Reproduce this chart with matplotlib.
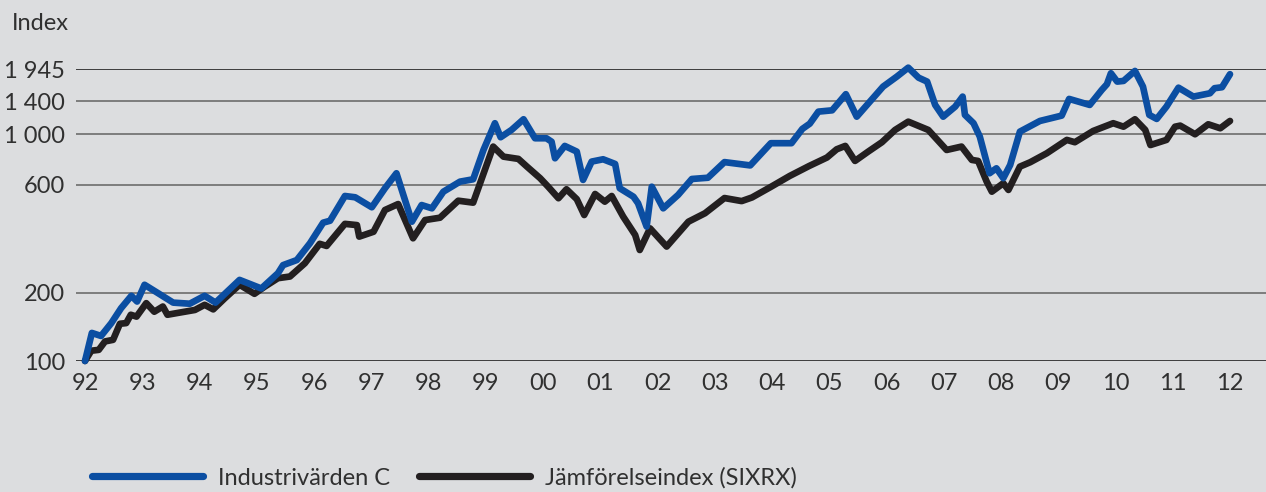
import matplotlib

matplotlib.use("Agg")
import matplotlib.pyplot as plt

# Industrivärden C, index (1992 = 100)
ind_years = [
    1992.00, 1992.12, 1992.28, 1992.46, 1992.63, 1992.81, 1992.91, 1993.04,
    1993.28, 1993.54, 1993.83, 1994.09, 1994.28, 1994.70, 1995.08, 1995.37,
    1995.46, 1995.70, 1995.93, 1996.16, 1996.28, 1996.54, 1996.72, 1997.01,
    1997.24, 1997.44, 1997.71, 1997.88, 1998.06, 1998.26, 1998.55, 1998.78,
    1998.96, 1999.16, 1999.26, 1999.45, 1999.66, 1999.86, 2000.06, 2000.15,
    2000.21, 2000.38, 2000.59, 2000.70, 2000.85, 2001.05, 2001.26, 2001.34,
    2001.58, 2001.66, 2001.81, 2001.90, 2002.10, 2002.36, 2002.60, 2002.88,
    2003.17, 2003.62, 2003.98, 2004.34, 2004.53, 2004.66, 2004.81, 2005.05,
    2005.29, 2005.48, 2005.71, 2005.94, 2006.18, 2006.38, 2006.56, 2006.71,
    2006.85, 2006.99, 2007.20, 2007.33, 2007.37, 2007.52, 2007.63, 2007.80,
    2007.92, 2008.04, 2008.16, 2008.33, 2008.68, 2009.06, 2009.19, 2009.55,
    2009.76, 2009.85, 2009.92, 2010.03, 2010.14, 2010.34, 2010.48, 2010.59,
    2010.72, 2010.89, 2011.10, 2011.36, 2011.65, 2011.73, 2011.86, 2012.00,
]
ind_values = [
    100, 133, 129, 147, 171, 194, 183, 217,
    199, 181, 179, 194, 181, 228, 209, 244,
    265, 279, 331, 408, 416, 535, 528, 477,
    579, 674, 412, 488, 472, 559, 619, 634,
    854, 1121, 972, 1047, 1167, 962, 962, 929,
    785, 890, 840, 630, 759, 777, 741, 579,
    531, 497, 392, 588, 472, 541, 636, 644,
    755, 730, 915, 915, 1058, 1116, 1261, 1278,
    1506, 1198, 1396, 1626, 1800, 1972, 1781, 1711,
    1350, 1198, 1327, 1469, 1220, 1121, 978, 674,
    709, 641, 733, 1029, 1147, 1211, 1435, 1350,
    1572, 1666, 1863, 1711, 1723, 1907, 1626, 1220,
    1171, 1327, 1609, 1469, 1520, 1600, 1616, 1845,
]

# Jämförelseindex (SIXRX)
six_years = [
    1992.00, 1992.11, 1992.24, 1992.35, 1992.49, 1992.61, 1992.72, 1992.80,
    1992.90, 1993.07, 1993.21, 1993.36, 1993.44, 1993.62, 1993.92, 1994.09,
    1994.24, 1994.44, 1994.70, 1994.96, 1995.14, 1995.37, 1995.58, 1995.84,
    1996.10, 1996.22, 1996.54, 1996.75, 1996.79, 1997.04, 1997.24, 1997.47,
    1997.73, 1997.94, 1998.20, 1998.52, 1998.78, 1999.13, 1999.31, 1999.57,
    1999.72, 1999.95, 2000.09, 2000.27, 2000.41, 2000.59, 2000.72, 2000.91,
    2001.08, 2001.20, 2001.40, 2001.61, 2001.69, 2001.87, 2002.16, 2002.54,
    2002.83, 2003.17, 2003.47, 2003.65, 2003.97, 2004.31, 2004.65, 2004.96,
    2005.13, 2005.28, 2005.45, 2005.68, 2005.92, 2006.15, 2006.38, 2006.73,
    2007.05, 2007.31, 2007.49, 2007.60, 2007.75, 2007.84, 2008.04, 2008.13,
    2008.33, 2008.51, 2008.80, 2009.15, 2009.29, 2009.61, 2009.96, 2010.14,
    2010.34, 2010.52, 2010.61, 2010.89, 2011.04, 2011.13, 2011.39, 2011.62,
    2011.83, 2012.00,
]
six_values = [
    100, 111, 112, 122, 124, 146, 147, 160,
    157, 180, 165, 174, 160, 163, 168, 177,
    169, 189, 217, 198, 213, 232, 236, 270,
    329, 322, 403, 398, 354, 372, 464, 493,
    348, 419, 429, 510, 500, 884, 798, 780,
    721, 641, 588, 523, 573, 518, 441, 546,
    505, 535, 434, 360, 309, 385, 320, 412,
    449, 524, 508, 527, 585, 656, 726, 791,
    860, 890, 764, 840, 924, 1047, 1139, 1047,
    854, 884, 772, 764, 619, 559, 609, 569,
    721, 754, 826, 946, 924, 1036, 1121, 1082,
    1167, 1047, 898, 946, 1082, 1094, 1002, 1109,
    1065, 1147,
]

y_ticks = [100, 200, 600, 1000, 1400, 1945]
y_labels = ["100", "200", "600", "1 000", "1 400", "1 945"]
x_ticks = list(range(1992, 2013))
x_labels = [f"{y % 100:02d}" for y in x_ticks]

BG = "#dcdddf"
BLUE = "#0b4ea2"
BLACK = "#231f20"
TEXT = "#303030"

plt.rcParams["font.family"] = ["Lato", "DejaVu Sans"]

W, H = 1266, 492
fig = plt.figure(figsize=(W / 100, H / 100), dpi=100, facecolor=BG)
ax = fig.add_axes([76 / W, 1 - 361 / H, 1 - 76 / W, (361 - 69) / H])
ax.set_facecolor(BG)
ax.set_yscale("log")
ax.set_ylim(100, 1945)
ax.set_xlim(1992 - 9 / 57.25, 1992 + 1181 / 57.25)

for v in y_ticks:
    edge = v in (y_ticks[0], y_ticks[-1])
    ax.axhline(v, color="#111111" if edge else "#7d7d7d",
               lw=1.1 if edge else 1.4, zorder=1)

ax.plot(six_years, six_values, color=BLACK, lw=4.8, zorder=3,
        solid_capstyle="round", solid_joinstyle="round", clip_on=False,
        label="Jämförelseindex (SIXRX)")
ax.plot(ind_years, ind_values, color=BLUE, lw=4.8, zorder=4,
        solid_capstyle="round", solid_joinstyle="round", clip_on=False,
        label="Industrivärden C")

ax.set_yticks(y_ticks)
ax.set_yticklabels(y_labels)
ax.yaxis.set_minor_locator(matplotlib.ticker.NullLocator())
ax.set_xticks(x_ticks)
ax.set_xticklabels(x_labels)
ax.tick_params(axis="both", length=0, labelsize=17, colors=TEXT)
ax.tick_params(axis="y", pad=8)
ax.tick_params(axis="x", pad=9)
for s in ax.spines.values():
    s.set_visible(False)

fig.text(12 / W, 1 - 24 / H, "Index", fontsize=17, color=TEXT,
         ha="left", va="center")

handles, labels = ax.get_legend_handles_labels()
leg = fig.legend(handles[::-1], labels[::-1], loc="center left",
                 bbox_to_anchor=(92 / W, 14 / H), ncol=2, frameon=False,
                 fontsize=17, handlelength=4.7, handletextpad=0.62,
                 columnspacing=1.25, borderpad=0, borderaxespad=0)
for t in leg.get_texts():
    t.set_color(TEXT)
for ln in leg.get_lines():
    ln.set_linewidth(5.2)

fig.savefig("out.png", dpi=100, facecolor=BG)
